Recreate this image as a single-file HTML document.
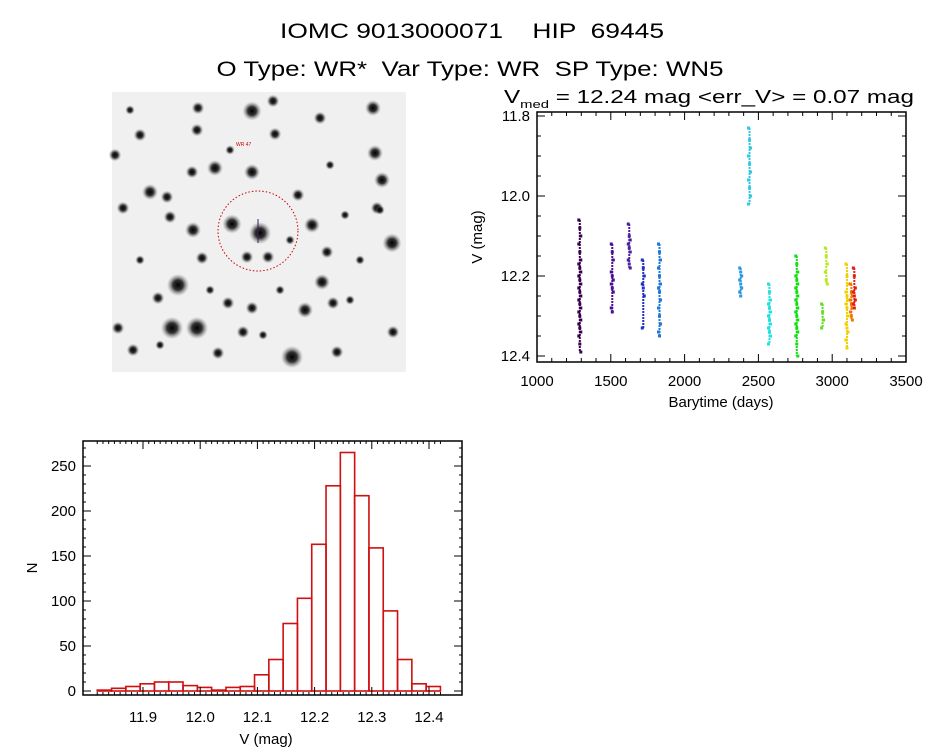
<!DOCTYPE html>
<html><head><meta charset="utf-8"><style>
html,body{margin:0;padding:0;background:#fff;}
body{width:944px;height:747px;overflow:hidden;font-family:"Liberation Sans",sans-serif;}
.pre{white-space:pre;}
</style></head><body>
<svg id="root" width="944" height="747" xmlns="http://www.w3.org/2000/svg" font-family="Liberation Sans, sans-serif">
<defs>
<radialGradient id="star"><stop offset="0" stop-color="#000" stop-opacity="1"/><stop offset="0.45" stop-color="#111" stop-opacity="0.85"/><stop offset="1" stop-color="#888" stop-opacity="0"/></radialGradient>
</defs>
<text class="pre" x="472" y="38" font-size="21" text-anchor="middle" textLength="384" lengthAdjust="spacingAndGlyphs">IOMC 9013000071    HIP  69445</text>
<text class="pre" x="470" y="76" font-size="21" text-anchor="middle" textLength="507" lengthAdjust="spacingAndGlyphs">O Type: WR*  Var Type: WR  SP Type: WN5</text>
<g id="img">
<rect x="112" y="92" width="294" height="280" fill="#f0f0f0"/>
</g>
<g id="lc"></g>
<g id="hist"></g>
</svg>
<script>
const starXY=[[252,111,6],[273,101,4],[373,108,5],[197,130,4],[140,135,4],[252,172,5],[215,168,5],[192,172,4],[150,192,5],[167,197,4],[123,208,4],[170,217,4],[232,224,6],[260,233,7],[193,230,5],[312,225,5],[392,243,6],[327,252,4],[202,258,4],[247,257,4],[268,257,4],[178,285,7],[322,282,5],[158,298,4],[228,303,4],[252,308,4],[305,310,5],[333,303,4],[172,328,7],[197,328,7],[243,332,4],[292,357,7],[218,353,4],[375,153,5],[382,180,5],[275,134,4],[298,195,4],[377,208,4],[115,155,4],[133,350,4],[337,352,4],[393,332,4],[320,118,4],[198,108,4],[118,328,4],[263,335,3],[380,210,3],[350,300,3],[290,240,3],[140,260,3],[210,290,3],[360,260,3],[130,110,3],[330,165,3],[160,345,3],[280,290,3],[230,150,3],[345,215,3]];
const NS='http://www.w3.org/2000/svg';
function mk(tag,attrs,parent){const e=document.createElementNS(NS,tag);for(const k in attrs)e.setAttribute(k,attrs[k]);parent.appendChild(e);return e;}
const img=document.getElementById('img');
starXY.forEach(s=>{const c=mk('circle',{cx:s[0],cy:s[1],r:s[2]*1.6,fill:'url(#star)'},img);

});
const ring=mk('circle',{cx:258,cy:231,r:40,fill:'none',stroke:'#c00','stroke-width':1,'stroke-dasharray':'1.5 2'},img);


const mark=mk('line',{x1:258,y1:219,x2:258,y2:243,stroke:'#402060','stroke-width':1},img);


const lbl=mk('text',{x:236,y:146,'font-size':5,fill:'#c00'},img);lbl.textContent='WR 47';



const lcTimes=[1290,1510,1625,1720,1830,2380,2440,2575,2760,2935,2960,3100,3130,3150];
const lcColors=['#3a0050','#4a1090','#4a20a0','#2030c0','#1e78d8','#2a9ae0','#30c8e0','#20e0e0','#10e010','#60e020','#b8e820','#f0d000','#f07800','#e02010'];
const lcMags=[
[12.06,12.08,12.10,12.12,12.14,12.16,12.17,12.18,12.19,12.20,12.21,12.22,12.23,12.24,12.25,12.26,12.27,12.28,12.29,12.30,12.31,12.32,12.33,12.34,12.35,12.37,12.39],
[12.12,12.14,12.16,12.19,12.20,12.21,12.22,12.23,12.24,12.28,12.29],
[12.07,12.10,12.11,12.12,12.13,12.14,12.16,12.17,12.18],
[12.16,12.18,12.20,12.22,12.23,12.25,12.33],
[12.12,12.14,12.16,12.18,12.20,12.22,12.23,12.24,12.26,12.28,12.30,12.32,12.34,12.35],
[12.18,12.19,12.20,12.21,12.22,12.23,12.24,12.25],
[11.83,11.86,11.88,11.90,11.92,11.94,11.96,11.98,12.00,12.02],
[12.22,12.24,12.26,12.27,12.28,12.29,12.30,12.31,12.32,12.33,12.34,12.35,12.37],
[12.15,12.17,12.19,12.20,12.21,12.22,12.23,12.24,12.25,12.26,12.27,12.28,12.29,12.30,12.31,12.32,12.33,12.34,12.35,12.37,12.40],
[12.27,12.29,12.31,12.33],
[12.13,12.15,12.17,12.19,12.21,12.22],
[12.17,12.20,12.22,12.24,12.25,12.26,12.27,12.28,12.30,12.32,12.33,12.34,12.36,12.38],
[12.22,12.24,12.25,12.26,12.27,12.28,12.29,12.30,12.31],
[12.18,12.20,12.23,12.24,12.25,12.26,12.27,12.28]
];
const lcXTicks=[1000,1500,2000,2500,3000,3500];
const lcYTicks=[11.8,12.0,12.2,12.4];

const lc=document.getElementById('lc');
const LX0=537,LX1=906,LY0=112,LY1=362;
const lxs=t=>LX0+(t-1000)/2500*(LX1-LX0);
const lys=m=>116+(m-11.8)/0.6*240;
const lframe=mk('rect',{x:LX0,y:LY0,width:LX1-LX0,height:LY1-LY0,fill:'none',stroke:'#000','stroke-width':1.5},lc);


for(let t=1000;t<=3500;t+=100){const x=lxs(t);const big=t%500===0;
mk('line',{x1:x,y1:LY1,x2:x,y2:LY1-(big?8:4),stroke:'#000'},lc);mk('line',{x1:x,y1:LY0,x2:x,y2:LY0+(big?8:4),stroke:'#000'},lc);}
lcXTicks.forEach(t=>{const e=mk('text',{x:lxs(t),y:386,'font-size':15,'text-anchor':'middle'},lc);e.textContent=String(t);

});
for(let m=11.8;m<=12.4001;m+=0.05){const y=lys(m);const big=Math.abs(Math.round(m*10)-m*10)<1e-6&&Math.round(m*10)%2===0;
mk('line',{x1:LX0,y1:y,x2:LX0+(big?8:4),y2:y,stroke:'#000'},lc);mk('line',{x1:LX1,y1:y,x2:LX1-(big?8:4),y2:y,stroke:'#000'},lc);}
lcYTicks.forEach(m=>{const e=mk('text',{x:530,y:lys(m)+5,'font-size':15,'text-anchor':'end'},lc);e.textContent=m.toFixed(1);

});
const lxt=mk('text',{x:721,y:407,'font-size':15,'text-anchor':'middle'},lc);lxt.textContent='Barytime (days)';


const lyt=mk('text',{x:0,y:0,'font-size':15,'text-anchor':'middle',transform:'translate(482,237) rotate(-90)'},lc);lyt.textContent='V (mag)';


const lt=mk('text',{x:504,y:103,'font-size':18,textLength:410,lengthAdjust:'spacingAndGlyphs'},lc);lt.innerHTML='V<tspan font-size="11" dy="5">med</tspan><tspan dy="-5"> = 12.24 mag &lt;err_V&gt; = 0.07 mag</tspan>';


lcTimes.forEach((t,i)=>{lcMags[i].forEach((m,j)=>{
const r=mk('rect',{x:lxs(t)-1.5+((j%3)-1),y:lys(m)-1.5,width:3,height:3,fill:lcColors[i]},lc);

});
const n=lcMags[i];const s=mk('line',{x1:lxs(t),y1:lys(n[0]),x2:lxs(t),y2:lys(n[n.length-1]),stroke:lcColors[i],'stroke-width':2,'stroke-dasharray':'2 1'},lc);

});

const hStart=11.82, hStep=0.025;
const hCounts=[1,3,5,8,10,10,6,4,1,4,5,18,35,75,103,163,228,265,217,159,89,35,8,5];
const hXTicks=[11.9,12.0,12.1,12.2,12.3,12.4];
const hYTicks=[0,50,100,150,200,250];
const hist=document.getElementById('hist');
const HX0=83,HX1=462,HY0=441,HY1=695;
const hxs=v=>143+(v-11.9)*572;
const hys=n=>691-n*0.9;
hCounts.forEach((c,i)=>{const x0=hxs(hStart+i*hStep),x1=hxs(hStart+(i+1)*hStep);
const b=mk('rect',{x:x0,y:hys(c),width:x1-x0,height:hys(0)-hys(c),fill:'none',stroke:'#d01010','stroke-width':1.6},hist);

});
const hf=mk('rect',{x:HX0,y:HY0,width:HX1-HX0,height:HY1-HY0,fill:'none',stroke:'#000','stroke-width':1.5},hist);


for(let k=0;k<=60;k++){const v=11.82+k*0.01;const x=hxs(v);if(x<HX0||x>HX1)continue;const big=Math.abs(v*10-Math.round(v*10))<1e-6;
mk('line',{x1:x,y1:HY1,x2:x,y2:HY1-(big?8:3),stroke:'#000'},hist);mk('line',{x1:x,y1:HY0,x2:x,y2:HY0+(big?8:3),stroke:'#000'},hist);}
hXTicks.forEach(v=>{const e=mk('text',{x:hxs(v),y:722,'font-size':15,'text-anchor':'middle'},hist);e.textContent=v.toFixed(1);

});
for(let n=0;n<=275;n+=10){const y=hys(n);const big=n%50===0;
mk('line',{x1:HX0,y1:y,x2:HX0+(big?8:3),y2:y,stroke:'#000'},hist);mk('line',{x1:HX1,y1:y,x2:HX1-(big?8:3),y2:y,stroke:'#000'},hist);}
hYTicks.forEach(n=>{const e=mk('text',{x:76,y:hys(n)+5,'font-size':15,'text-anchor':'end'},hist);e.textContent=String(n);

});
const hxt=mk('text',{x:266,y:744,'font-size':15,'text-anchor':'middle'},hist);hxt.textContent='V (mag)';


const hyt=mk('text',{x:0,y:0,'font-size':15,'text-anchor':'middle',transform:'translate(37,568) rotate(-90)'},hist);hyt.textContent='N';


</script>
</body></html>
